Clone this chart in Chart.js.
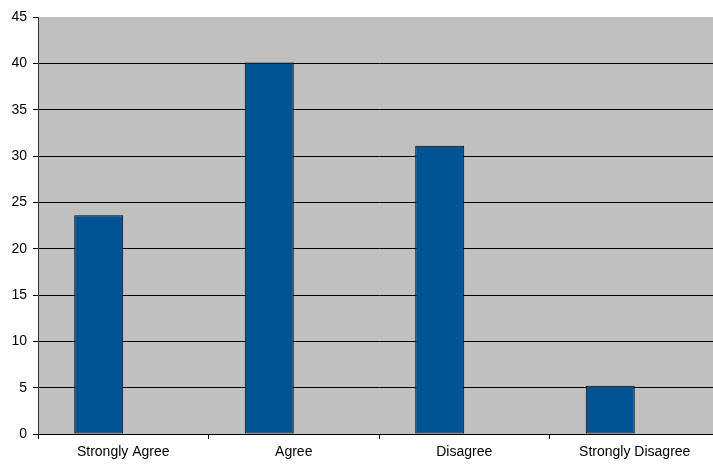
<!DOCTYPE html>
<html>
<head>
<meta charset="utf-8">
<script src="https://cdn.jsdelivr.net/npm/chart.js@4"></script>
<style>
  html, body { margin: 0; padding: 0; overflow: hidden; background: #fff; }
</style>
</head>
<body>
<canvas id="myChart" width="724" height="464"></canvas>
<script>
const labels = ["Strongly Agree", "Agree", "Disagree", "Strongly Disagree"];
const responses = [23.6, 40.1, 31.1, 5.2];
const emptySeries = [null, null, null, null];

// gray plot area like the old spreadsheet chart
const plotBackground = {
    id: "plotBackground",
    beforeDraw(chart) {
        const a = chart.chartArea;
        const ctx = chart.ctx;
        ctx.save();
        ctx.fillStyle = "#c0c0c0";
        ctx.fillRect(a.left, a.top, a.right - a.left, a.bottom - a.top);
        ctx.restore();
    }
};

const data = {
    labels: labels,
    datasets: [
        {
            label: "Responses",
            backgroundColor: "#005493",
            borderColor: "#000",
            borderWidth: 1,
            borderSkipped: false,
            data: responses,
        },
        {
            label: "",
            backgroundColor: "#ffffff",
            data: emptySeries,
        },
    ],
};

const config = {
    type: "bar",
    data: data,
    plugins: [plotBackground],
    options: {
        responsive: false,
        animation: false,
        categoryPercentage: 0.575,
        barPercentage: 1,
        layout: { padding: { top: 17, right: 4, left: 0, bottom: 0 } },
        plugins: {
            legend: { display: false },
            tooltip: { enabled: false },
        },
        scales: {
            x: {
                offset: true,
                grid: {
                    offset: true,
                    drawOnChartArea: false,
                    color: "#000",
                    tickLength: 5,
                },
                border: { color: "#000", width: 1 },
                ticks: {
                    color: "#000",
                    padding: 5,
                    maxRotation: 0,
                    font: { family: "'Liberation Sans', Arial, sans-serif", size: 14 },
                },
                afterFit(scale) { scale.height = 30; },
            },
            y: {
                min: 0,
                max: 45,
                ticks: {
                    stepSize: 5,
                    color: "#000",
                    padding: 6,
                    font: { family: "'Liberation Sans', Arial, sans-serif", size: 14 },
                },
                grid: {
                    color: (c) => (c.tick && c.tick.value === 45 ? "rgba(0,0,0,0)" : "#000"),
                    tickColor: "#000",
                    tickLength: 5,
                },
                border: { color: "#333", width: 1 },
                afterFit(scale) { scale.width = 38; },
            },
        },
    },
};

const myChart = new Chart(document.getElementById("myChart"), config);
</script>
</body>
</html>
